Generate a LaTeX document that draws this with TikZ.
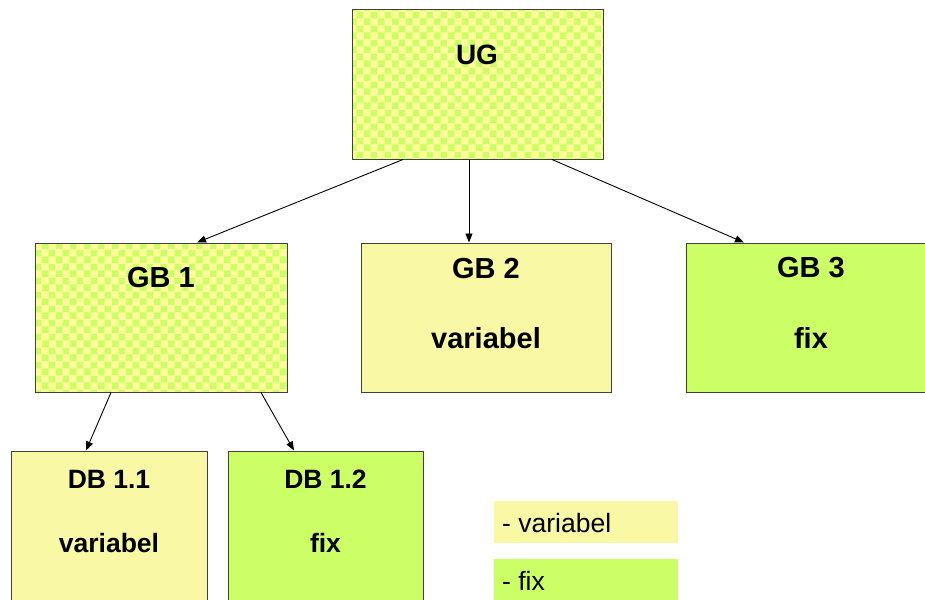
\documentclass[tikz,border=0pt]{standalone}
\usepackage{fontspec}
\setmainfont{Liberation Sans}
\usetikzlibrary{arrows.meta,patterns.meta}
\definecolor{lyel}{HTML}{F9F9A5}
\definecolor{cyel}{HTML}{FFFF99}
\definecolor{lgrn}{HTML}{CCFF66}
\definecolor{edge}{HTML}{404040}
\tikzdeclarepattern{name=checker, type=uncolored,
  bounding box={(0pt,0pt) and (14pt,14pt)},
  tile size={(14pt,14pt)},
  code={\fill (0pt,0pt) rectangle (7pt,7pt); \fill (7pt,7pt) rectangle (14pt,14pt);}}
\tikzset{
  box/.style={draw=edge, line width=1pt, inner sep=0pt, rectangle},
  checkbox/.style={box, preaction={fill=cyel}, pattern=checker, pattern color=lgrn},
  varbox/.style={box, fill=lyel},
  fixbox/.style={box, fill=lgrn},
  lbl/.style={font=\bfseries\fontsize{29}{31}\selectfont, anchor=base, inner sep=0pt},
  ulbl/.style={font=\bfseries\fontsize{28}{30}\selectfont, anchor=base, inner sep=0pt},
  dlbl/.style={font=\bfseries\fontsize{26.5}{28}\selectfont, anchor=base, inner sep=0pt},
  legtxt/.style={font=\fontsize{26.5}{28}\selectfont, anchor=base west, inner sep=0pt},
  conn/.style={-{Triangle[length=9pt,width=7pt]}, line width=0.9pt, black}
}
\begin{document}
\begin{tikzpicture}[x=1pt,y=-1pt]
\clip (0,0) rectangle (925,599);
\fill[white] (0,0) rectangle (925,599);
% boxes
\node[checkbox, minimum width=251pt, minimum height=149pt] (ug) at (477.5,84.5) {};
\node[checkbox, minimum width=252pt, minimum height=149pt] (gb1) at (161,317.5) {};
\node[varbox, minimum width=250pt, minimum height=149pt] (gb2) at (486,317.5) {};
\node[fixbox, minimum width=250pt, minimum height=149pt] (gb3) at (811,317.5) {};
\node[varbox, minimum width=196pt, minimum height=160pt] (db11) at (109,531) {};
\node[fixbox, minimum width=195pt, minimum height=160pt] (db12) at (325.5,531) {};
% labels
\node[ulbl] (tug) at (477,65) {UG};
\node[lbl] (tgb1) at (161,287) {GB 1};
\node[lbl] (tgb2) at (486,278) {GB 2};
\node[lbl] (vgb2) at (486,348) {variabel};
\node[lbl] (tgb3) at (811,277) {GB 3};
\node[lbl] (fgb3) at (811,348) {fix};
\node[dlbl] (tdb11) at (109,488) {DB 1.1};
\node[dlbl] (vdb11) at (109,552) {variabel};
\node[dlbl] (tdb12) at (325.5,488) {DB 1.2};
\node[dlbl] (fdb12) at (325.5,552) {fix};
% legend
\node[fill=lyel, minimum width=184pt, minimum height=42pt, inner sep=0pt] (legv) at (586,522) {};
\node[fill=lgrn, minimum width=184pt, minimum height=42pt, inner sep=0pt] (legf) at (586,580) {};
\node[legtxt] (tlegv) at (502,532) {- variabel};
\node[legtxt] (tlegf) at (502,590) {- fix};
% connectors
\draw[conn] ([xshift=-74.5pt]ug.south) -- ([xshift=36pt]gb1.north);
\draw[conn] ([xshift=-8.5pt]ug.south) -- ([xshift=-17pt]gb2.north);
\draw[conn] ([xshift=74.5pt]ug.south) -- ([xshift=-67pt]gb3.north);
\draw[conn] ([xshift=-50pt]gb1.south) -- ([xshift=-23pt]db11.north);
\draw[conn] ([xshift=100pt]gb1.south) -- ([xshift=-31.5pt]db12.north);
\end{tikzpicture}
\end{document}
